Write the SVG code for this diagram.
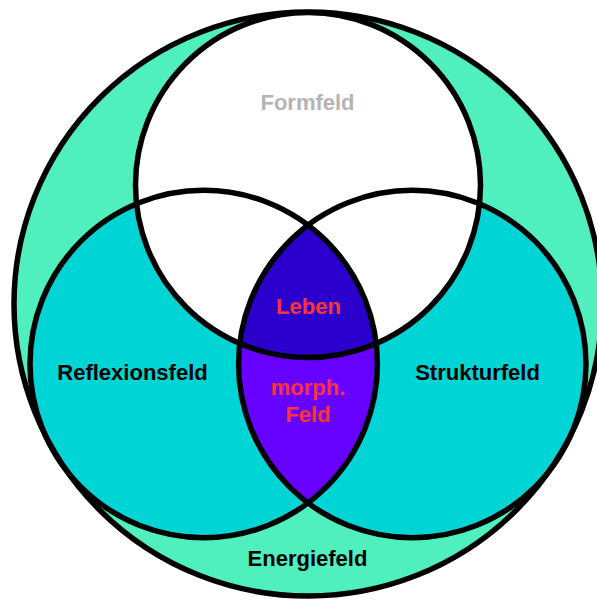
<svg xmlns="http://www.w3.org/2000/svg" width="597" height="600" viewBox="0 0 597 600">
  <style>
    .lbl { font-family: "Liberation Sans", Arial, sans-serif; font-weight: bold; font-size: 22px; text-anchor: middle; }
    .dark { fill: #000000; }
    .red { fill: #FF3333; }
    .gray { fill: #B4B4B4; }
    .outline { fill: none; stroke: #000000; stroke-width: 5.5; }
  </style>
  <defs>
    <clipPath id="clipL"><circle cx="203.7" cy="364" r="173.7"/></clipPath>
    <clipPath id="clipR"><circle cx="412.3" cy="364" r="173.7"/></clipPath>
    <clipPath id="clipT"><circle cx="308" cy="185" r="172.5"/></clipPath>
  </defs>
  <rect width="597" height="600" fill="#FFFFFF"/>

  <g id="energiefeld">
    <ellipse cx="308" cy="304" rx="294" ry="292" fill="#50F0BE"/>
  </g>
  <g id="reflexionsfeld">
    <circle cx="203.7" cy="364" r="173.7" fill="#00D4D4"/>
  </g>
  <g id="strukturfeld">
    <circle cx="412.3" cy="364" r="173.7" fill="#00D4D4"/>
  </g>
  <g id="formfeld">
    <circle cx="308" cy="185" r="172.5" fill="#FFFFFF"/>
  </g>
  <g id="morph-feld">
    <g clip-path="url(#clipL)">
      <circle cx="412.3" cy="364" r="173.7" fill="#6600FF"/>
    </g>
  </g>
  <g id="leben">
    <g clip-path="url(#clipL)">
      <g clip-path="url(#clipR)">
        <circle cx="308" cy="185" r="172.5" fill="#2B00CC"/>
      </g>
    </g>
  </g>

  <g id="outlines">
    <ellipse class="outline" cx="308" cy="304" rx="294" ry="292"/>
    <circle class="outline" cx="203.7" cy="364" r="173.7"/>
    <circle class="outline" cx="412.3" cy="364" r="173.7"/>
    <circle class="outline" cx="308" cy="185" r="172.5"/>
  </g>
  <g id="connectors"/>

  <g id="labels">
    <text class="lbl gray" x="307.5" y="110">Formfeld</text>
    <text class="lbl dark" x="132.5" y="380">Reflexionsfeld</text>
    <text class="lbl dark" x="477.5" y="380">Strukturfeld</text>
    <text class="lbl red" x="308.5" y="314">Leben</text>
    <text class="lbl red" x="308" y="395">morph.</text>
    <text class="lbl red" x="308" y="422">Feld</text>
    <text class="lbl dark" x="307.5" y="566">Energiefeld</text>
  </g>
</svg>
